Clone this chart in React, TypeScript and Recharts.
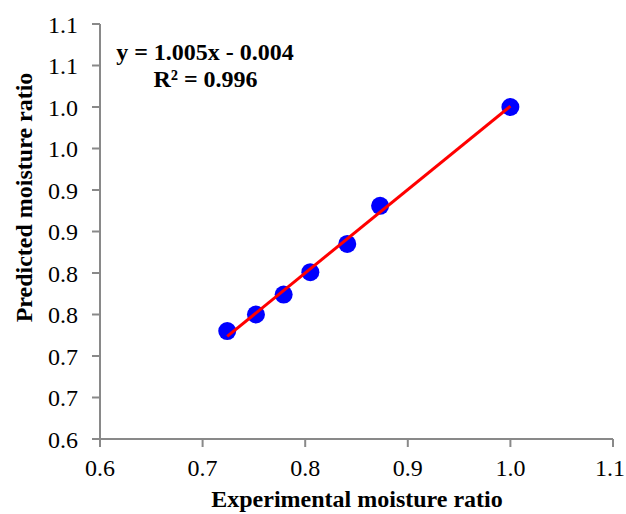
import React from 'react';
import { ScatterChart, Scatter, XAxis, YAxis } from 'recharts';

// Experimental vs predicted moisture ratio
const experimental = [0.724, 0.752, 0.779, 0.805, 0.841, 0.873, 1.0];
const predicted = [0.73, 0.75, 0.774, 0.801, 0.835, 0.881, 1.0];

const xTicks = [0.6, 0.7, 0.8, 0.9, 1.0, 1.1];
const xTickLabels = ['0.6', '0.7', '0.8', '0.9', '1.0', '1.1'];
const yTicks = [0.6, 0.65, 0.7, 0.75, 0.8, 0.85, 0.9, 0.95, 1.0, 1.05, 1.1];
const yTickLabels = ['0.6', '0.7', '0.7', '0.8', '0.8', '0.9', '0.9', '1.0', '1.0', '1.1', '1.1'];

const slope = 1.005;
const intercept = -0.004;
const equationText = 'y = 1.005x - 0.004';
const r2Text = 'R² = 0.996';
const xTitle = 'Experimental moisture ratio';
const yTitle = 'Predicted moisture ratio';

const points = experimental.map((x, i) => ({ x, y: predicted[i] }));
const xMin = Math.min(...experimental);
const xMax = Math.max(...experimental);
const trend = [xMin, xMax].map((x) => ({ x, y: slope * x + intercept }));

const FONT = '"Liberation Serif", "Times New Roman", serif';
const AXIS = '#898989';
const W = 626;
const H = 514;

const Dot = (props: any) => (
  <circle cx={props.cx} cy={props.cy} r={9} fill="#0000FF" />
);
const NoShape = () => <g />;

const XTick = (props: any) => {
  const { x, y, payload } = props;
  const label = xTickLabels[xTicks.indexOf(payload.value)];
  const cx = Math.min(x, W - 16);
  return (
    <text x={cx} y={y} dy="0.71em" textAnchor="middle" fill="#000" fontSize={24} fontFamily={FONT}>
      {label}
    </text>
  );
};

export default function App() {
  return (
    <div style={{ position: 'absolute', left: 0, top: 0, width: W, height: H, background: '#fff' }}>
      <ScatterChart
        width={W}
        height={H}
        margin={{ top: 24, right: 13, bottom: 0, left: 0 }}
        style={{ fontFamily: FONT }}
      >
        <XAxis
          type="number"
          dataKey="x"
          domain={[0.6, 1.1]}
          ticks={xTicks}
          interval={0}
          height={75}
          tickSize={8}
          tickMargin={12}
          axisLine={{ stroke: AXIS, strokeWidth: 2 }}
          tickLine={{ stroke: AXIS, strokeWidth: 2 }}
          tick={<XTick />}
          allowDataOverflow
        />
        <YAxis
          type="number"
          dataKey="y"
          domain={[0.6, 1.1]}
          ticks={yTicks}
          interval={0}
          width={100}
          tickSize={8}
          tickMargin={14}
          tickFormatter={(v: number) => yTickLabels[yTicks.indexOf(v)]}
          axisLine={{ stroke: AXIS, strokeWidth: 2 }}
          tickLine={{ stroke: AXIS, strokeWidth: 2 }}
          tick={{ fill: '#000', fontSize: 24, fontFamily: FONT }}
          allowDataOverflow
        />
        <Scatter data={points} shape={Dot} isAnimationActive={false} />
        <Scatter
          data={trend}
          shape={NoShape}
          line={{ stroke: '#FF0000', strokeWidth: 3 }}
          isAnimationActive={false}
        />
      </ScatterChart>
      <svg
        width={W}
        height={H}
        style={{ position: 'absolute', left: 0, top: 0, pointerEvents: 'none' }}
      >
        <g fontFamily={FONT} fontWeight="bold" fontSize={24} fill="#000">
          <text x={205} y={60} textAnchor="middle">{equationText}</text>
          <text x={205.5} y={87} textAnchor="middle">{r2Text}</text>
          <text x={357} y={507} textAnchor="middle">{xTitle}</text>
          <text x={31.5} y={197.5} textAnchor="middle" transform="rotate(-90 31.5 197.5)">{yTitle}</text>
        </g>
      </svg>
    </div>
  );
}
